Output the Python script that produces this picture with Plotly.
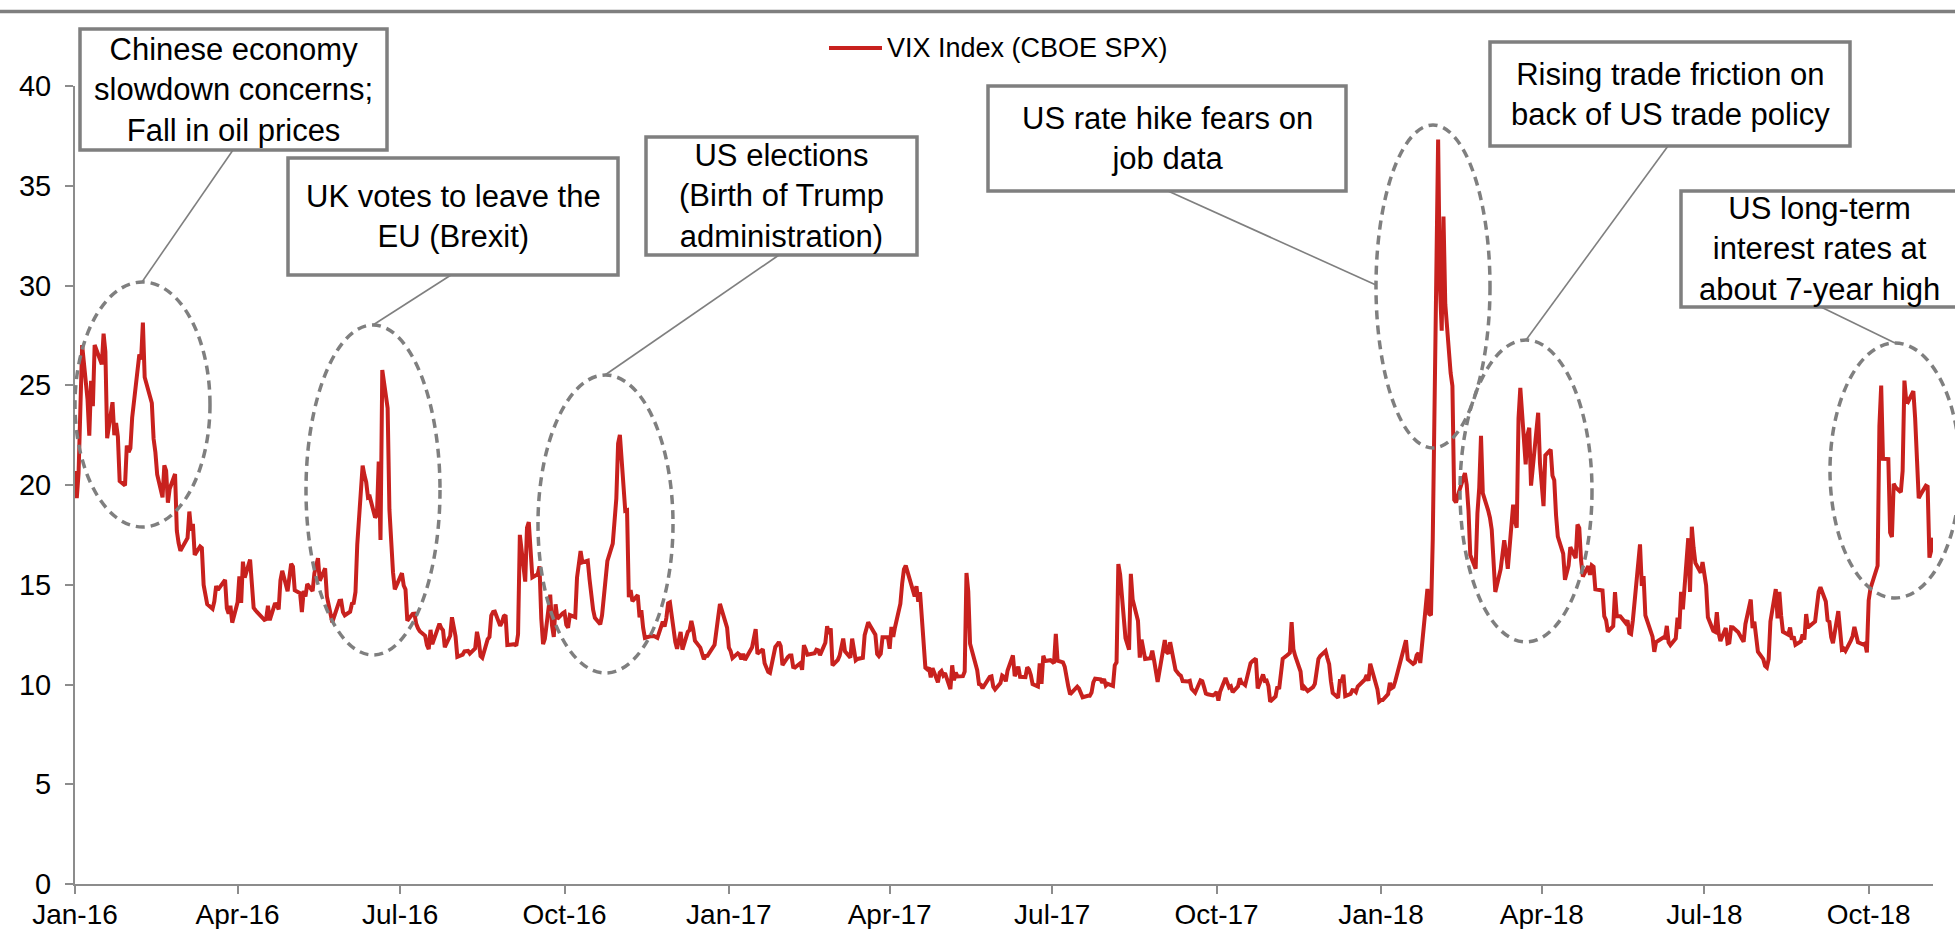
import plotly.graph_objects as go

# ---------------------------------------------------------------------------
# VIX daily closes (CBOE SPX volatility index)
# ---------------------------------------------------------------------------
days_2016 = [
    "01-04", "01-05", "01-06", "01-07", "01-08", "01-11", "01-12", "01-13", "01-14", "01-15",
    "01-19", "01-20", "01-21", "01-22", "01-25", "01-26", "01-27", "01-28", "01-29",
    "02-01", "02-02", "02-03", "02-04", "02-05", "02-08", "02-09", "02-10", "02-11", "02-12",
    "02-16", "02-17", "02-18", "02-19", "02-22", "02-23", "02-24", "02-25", "02-26", "02-29",
    "03-01", "03-02", "03-03", "03-04", "03-07", "03-08", "03-09", "03-10", "03-11", "03-14",
    "03-15", "03-16", "03-17", "03-18", "03-21", "03-22", "03-23", "03-24", "03-28", "03-29",
    "03-30", "03-31", "04-01", "04-04", "04-05", "04-06", "04-07", "04-08", "04-11", "04-12",
    "04-13", "04-14", "04-15", "04-18", "04-19", "04-20", "04-21", "04-22", "04-25", "04-26",
    "04-27", "04-28", "04-29", "05-02", "05-03", "05-04", "05-05", "05-06", "05-09", "05-10",
    "05-11", "05-12", "05-13", "05-16", "05-17", "05-18", "05-19", "05-20", "05-23", "05-24",
    "05-25", "05-26", "05-27", "05-31", "06-01", "06-02", "06-03", "06-06", "06-07", "06-08",
    "06-09", "06-10", "06-13", "06-14", "06-15", "06-16", "06-17", "06-20", "06-21", "06-22",
    "06-23", "06-24", "06-27", "06-28", "06-29", "06-30", "07-01", "07-05", "07-06", "07-07",
    "07-08", "07-11", "07-12", "07-13", "07-14", "07-15", "07-18", "07-19", "07-20", "07-21",
    "07-22", "07-25", "07-26", "07-27", "07-28", "07-29", "08-01", "08-02", "08-03", "08-04",
    "08-05", "08-08", "08-09", "08-10", "08-11", "08-12", "08-15", "08-16", "08-17", "08-18",
    "08-19", "08-22", "08-23", "08-24", "08-25", "08-26", "08-29", "08-30", "08-31", "09-01",
    "09-02", "09-06", "09-07", "09-08", "09-09", "09-12", "09-13", "09-14", "09-15", "09-16",
    "09-19", "09-20", "09-21", "09-22", "09-23", "09-26", "09-27", "09-28", "09-29", "09-30",
    "10-03", "10-04", "10-05", "10-06", "10-07", "10-10", "10-11", "10-12", "10-13", "10-14",
    "10-17", "10-18", "10-19", "10-20", "10-21", "10-24", "10-25", "10-26", "10-27", "10-28",
    "10-31", "11-01", "11-02", "11-03", "11-04", "11-07", "11-08", "11-09", "11-10", "11-11",
    "11-14", "11-15", "11-16", "11-17", "11-18", "11-21", "11-22", "11-23", "11-25", "11-28",
    "11-29", "11-30", "12-01", "12-02", "12-05", "12-06", "12-07", "12-08", "12-09", "12-12",
    "12-13", "12-14", "12-15", "12-16", "12-19", "12-20", "12-21", "12-22", "12-23", "12-27",
    "12-28", "12-29", "12-30",
]
vix_2016 = [
    20.70, 19.34, 20.59, 24.99, 27.01, 24.30, 22.47, 25.22, 23.95, 27.02,
    26.05, 27.59, 26.69, 22.34, 24.15, 22.50, 23.11, 22.42, 20.20,
    19.98, 21.98, 21.65, 21.84, 23.38, 26.00, 26.54, 26.29, 28.14, 25.40,
    24.11, 22.31, 21.64, 20.53, 19.38, 20.98, 20.72, 19.11, 19.81, 20.55,
    17.70, 17.09, 16.70, 16.86, 17.35, 18.67, 17.72, 18.05, 16.50, 16.92,
    16.84, 14.99, 14.44, 14.02, 13.79, 14.17, 14.94, 14.74, 15.24, 13.82,
    13.56, 13.95, 13.10, 14.12, 15.42, 14.09, 16.16, 15.36, 16.26, 14.85,
    13.84, 13.72, 13.62, 13.35, 13.24, 13.28, 13.95, 13.22, 14.08, 13.96,
    13.77, 15.22, 15.70, 14.68, 15.60, 16.05, 15.91, 14.72, 14.57, 13.63,
    14.69, 14.41, 15.04, 14.68, 15.57, 15.95, 16.33, 15.20, 15.82, 14.42,
    13.90, 13.43, 13.12, 14.19, 14.20, 13.63, 13.47, 13.65, 14.05, 14.08,
    14.64, 17.03, 20.97, 20.50, 20.14, 19.37, 19.41, 18.37, 18.48, 21.17,
    17.25, 25.76, 23.85, 18.75, 16.64, 15.63, 14.77, 15.58, 14.96, 14.76,
    13.20, 13.54, 13.55, 13.04, 12.82, 12.67, 12.44, 11.97, 11.77, 12.74,
    12.02, 12.87, 13.05, 12.83, 12.72, 11.87, 12.44, 13.37, 12.86, 12.42,
    11.39, 11.50, 11.66, 11.66, 11.68, 11.55, 11.81, 12.64, 12.19, 11.43,
    11.34, 12.27, 12.38, 13.45, 13.63, 13.65, 12.94, 13.12, 13.42, 13.48,
    11.98, 12.02, 11.94, 12.51, 17.50, 15.16, 17.85, 18.14, 16.30, 15.37,
    15.53, 15.92, 13.30, 12.02, 12.29, 14.50, 12.96, 12.39, 14.02, 13.29,
    13.57, 13.63, 12.99, 12.84, 13.48, 13.38, 15.36, 15.91, 16.69, 16.12,
    16.21, 15.28, 14.41, 13.75, 13.34, 13.02, 13.46, 14.24, 15.36, 16.19,
    17.06, 18.56, 19.32, 22.08, 22.51, 18.71, 18.74, 14.38, 14.74, 14.17,
    14.48, 13.37, 13.72, 12.85, 12.34, 12.42, 12.41, 12.43, 12.34, 13.15,
    12.90, 13.33, 14.07, 14.12, 12.14, 11.79, 12.22, 12.64, 11.75, 12.64,
    12.72, 13.19, 12.79, 12.20, 11.85, 11.45, 11.27, 11.43, 11.44, 11.99,
    12.95, 13.37, 14.04,
]

days_2017 = [
    "01-03", "01-04", "01-05", "01-06", "01-09", "01-10", "01-11", "01-12", "01-13", "01-17",
    "01-18", "01-19", "01-20", "01-23", "01-24", "01-25", "01-26", "01-27", "01-30", "01-31",
    "02-01", "02-02", "02-03", "02-06", "02-07", "02-08", "02-09", "02-10", "02-13", "02-14",
    "02-15", "02-16", "02-17", "02-21", "02-22", "02-23", "02-24", "02-27", "02-28", "03-01",
    "03-02", "03-03", "03-06", "03-07", "03-08", "03-09", "03-10", "03-13", "03-14", "03-15",
    "03-16", "03-17", "03-20", "03-21", "03-22", "03-23", "03-24", "03-27", "03-28", "03-29",
    "03-30", "03-31", "04-03", "04-04", "04-05", "04-06", "04-07", "04-10", "04-11", "04-12",
    "04-13", "04-17", "04-18", "04-19", "04-20", "04-21", "04-24", "04-25", "04-26", "04-27",
    "04-28", "05-01", "05-02", "05-03", "05-04", "05-05", "05-08", "05-09", "05-10", "05-11",
    "05-12", "05-15", "05-16", "05-17", "05-18", "05-19", "05-22", "05-23", "05-24", "05-25",
    "05-26", "05-30", "05-31", "06-01", "06-02", "06-05", "06-06", "06-07", "06-08", "06-09",
    "06-12", "06-13", "06-14", "06-15", "06-16", "06-19", "06-20", "06-21", "06-22", "06-23",
    "06-26", "06-27", "06-28", "06-29", "06-30", "07-03", "07-05", "07-06", "07-07", "07-10",
    "07-11", "07-12", "07-13", "07-14", "07-17", "07-18", "07-19", "07-20", "07-21", "07-24",
    "07-25", "07-26", "07-27", "07-28", "07-31", "08-01", "08-02", "08-03", "08-04", "08-07",
    "08-08", "08-09", "08-10", "08-11", "08-14", "08-15", "08-16", "08-17", "08-18", "08-21",
    "08-22", "08-23", "08-24", "08-25", "08-28", "08-29", "08-30", "08-31", "09-01", "09-05",
    "09-06", "09-07", "09-08", "09-11", "09-12", "09-13", "09-14", "09-15", "09-18", "09-19",
    "09-20", "09-21", "09-22", "09-25", "09-26", "09-27", "09-28", "09-29", "10-02", "10-03",
    "10-04", "10-05", "10-06", "10-09", "10-10", "10-11", "10-12", "10-13", "10-16", "10-17",
    "10-18", "10-19", "10-20", "10-23", "10-24", "10-25", "10-26", "10-27", "10-30", "10-31",
    "11-01", "11-02", "11-03", "11-06", "11-07", "11-08", "11-09", "11-10", "11-13", "11-14",
    "11-15", "11-16", "11-17", "11-20", "11-21", "11-22", "11-24", "11-27", "11-28", "11-29",
    "11-30", "12-01", "12-04", "12-05", "12-06", "12-07", "12-08", "12-11", "12-12", "12-13",
    "12-14", "12-15", "12-18", "12-19", "12-20", "12-21", "12-22", "12-26", "12-27", "12-28",
    "12-29",
]
vix_2017 = [
    12.85, 11.85, 11.67, 11.32, 11.56, 11.49, 11.26, 11.54, 11.23, 11.87,
    12.48, 12.78, 11.54, 11.77, 11.07, 10.81, 10.63, 10.58, 11.88, 11.99,
    12.13, 11.93, 10.97, 11.37, 11.45, 11.45, 10.88, 10.85, 11.07, 10.74,
    11.97, 11.76, 11.49, 11.57, 11.74, 11.71, 11.47, 12.09, 12.92, 12.54,
    12.81, 10.96, 11.24, 11.45, 11.86, 12.30, 11.66, 11.35, 12.30, 11.63,
    11.21, 11.28, 11.34, 12.47, 12.81, 13.12, 12.96, 12.50, 11.53, 11.42,
    11.54, 12.37, 12.38, 11.79, 12.89, 12.39, 12.87, 14.05, 15.07, 15.77,
    15.96, 14.66, 14.42, 14.93, 14.15, 14.63, 10.84, 10.76, 10.85, 10.36,
    10.82, 10.11, 10.59, 10.68, 10.46, 10.57, 9.77, 10.96, 10.21, 10.60,
    10.40, 10.42, 10.65, 15.59, 14.66, 12.04, 10.93, 10.72, 10.02, 9.99,
    9.81, 10.38, 10.41, 9.89, 9.75, 10.07, 10.45, 10.39, 10.16, 10.70,
    11.46, 10.42, 10.64, 10.90, 10.38, 10.37, 10.86, 10.75, 10.48, 10.02,
    9.90, 11.06, 10.03, 11.44, 11.18, 11.22, 11.07, 12.54, 11.19, 11.11,
    10.89, 10.30, 9.90, 9.51, 9.82, 9.89, 9.79, 9.58, 9.36, 9.43,
    9.43, 9.60, 10.11, 10.29, 10.26, 10.09, 10.28, 9.95, 10.03, 9.93,
    10.96, 11.11, 16.04, 15.51, 12.33, 12.04, 11.74, 15.55, 14.26, 13.19,
    11.35, 12.25, 11.78, 11.28, 11.32, 11.70, 11.22, 10.59, 10.13, 12.23,
    11.63, 11.55, 12.12, 10.73, 10.58, 10.50, 10.44, 10.17, 10.15, 10.18,
    9.78, 9.67, 9.59, 10.21, 10.17, 9.87, 9.55, 9.51, 9.45, 9.51,
    9.63, 9.19, 9.65, 10.33, 10.08, 9.85, 9.91, 9.61, 9.91, 10.31,
    10.07, 10.05, 9.97, 11.07, 11.16, 11.23, 11.30, 9.80, 10.50, 10.18,
    10.20, 9.93, 9.14, 9.40, 9.89, 9.78, 10.50, 11.29, 11.50, 11.59,
    13.13, 11.76, 11.43, 10.65, 9.73, 9.88, 9.67, 9.87, 10.03, 10.70,
    11.28, 11.43, 11.68, 11.33, 11.02, 10.16, 9.58, 9.34, 10.18, 10.18,
    10.49, 9.42, 9.53, 9.72, 9.71, 9.62, 9.90, 10.25, 10.47, 10.18,
    11.04,
]

days_2018 = [
    "01-02", "01-03", "01-04", "01-05", "01-08", "01-09", "01-10", "01-11", "01-12", "01-16",
    "01-17", "01-18", "01-19", "01-22", "01-23", "01-24", "01-25", "01-26", "01-29", "01-30",
    "01-31", "02-01", "02-02", "02-05", "02-06", "02-07", "02-08", "02-09", "02-12", "02-13",
    "02-14", "02-15", "02-16", "02-20", "02-21", "02-22", "02-23", "02-26", "02-27", "02-28",
    "03-01", "03-02", "03-05", "03-06", "03-07", "03-08", "03-09", "03-12", "03-13", "03-14",
    "03-15", "03-16", "03-19", "03-20", "03-21", "03-22", "03-23", "03-26", "03-27", "03-28",
    "03-29", "04-02", "04-03", "04-04", "04-05", "04-06", "04-09", "04-10", "04-11", "04-12",
    "04-13", "04-16", "04-17", "04-18", "04-19", "04-20", "04-23", "04-24", "04-25", "04-26",
    "04-27", "04-30", "05-01", "05-02", "05-03", "05-04", "05-07", "05-08", "05-09", "05-10",
    "05-11", "05-14", "05-15", "05-16", "05-17", "05-18", "05-21", "05-22", "05-23", "05-24",
    "05-25", "05-29", "05-30", "05-31", "06-01", "06-04", "06-05", "06-06", "06-07", "06-08",
    "06-11", "06-12", "06-13", "06-14", "06-15", "06-18", "06-19", "06-20", "06-21", "06-22",
    "06-25", "06-26", "06-27", "06-28", "06-29", "07-02", "07-03", "07-05", "07-06", "07-09",
    "07-10", "07-11", "07-12", "07-13", "07-16", "07-17", "07-18", "07-19", "07-20", "07-23",
    "07-24", "07-25", "07-26", "07-27", "07-30", "07-31", "08-01", "08-02", "08-03", "08-06",
    "08-07", "08-08", "08-09", "08-10", "08-13", "08-14", "08-15", "08-16", "08-17", "08-20",
    "08-21", "08-22", "08-23", "08-24", "08-27", "08-28", "08-29", "08-30", "08-31", "09-04",
    "09-05", "09-06", "09-07", "09-10", "09-11", "09-12", "09-13", "09-14", "09-17", "09-18",
    "09-19", "09-20", "09-21", "09-24", "09-25", "09-26", "09-27", "09-28", "10-01", "10-02",
    "10-03", "10-04", "10-05", "10-08", "10-09", "10-10", "10-11", "10-12", "10-15", "10-16",
    "10-17", "10-18", "10-19", "10-22", "10-23", "10-24", "10-25", "10-26", "10-29", "10-30",
    "10-31", "11-01", "11-02", "11-05", "11-06", "11-07", "11-08", "11-09",
]
vix_2018 = [
    9.77, 9.15, 9.22, 9.22, 9.52, 10.08, 9.82, 9.88, 10.16, 11.66,
    11.91, 12.22, 11.27, 11.03, 11.10, 11.47, 11.58, 11.08, 13.84, 14.79,
    13.54, 13.47, 17.31, 37.32, 29.98, 27.73, 33.46, 29.06, 25.61, 24.97,
    19.26, 19.13, 19.46, 20.60, 20.02, 18.72, 16.49, 15.80, 18.59, 19.85,
    22.47, 19.59, 18.73, 18.36, 17.76, 16.54, 14.64, 15.78, 16.35, 17.23,
    16.59, 15.80, 19.02, 18.20, 17.86, 23.34, 24.87, 21.03, 22.50, 22.87,
    19.97, 23.62, 21.10, 20.06, 18.94, 21.49, 21.77, 20.47, 20.24, 18.49,
    17.41, 16.56, 15.25, 15.60, 15.96, 16.88, 16.34, 18.02, 17.84, 16.24,
    15.41, 15.93, 15.49, 15.97, 15.90, 14.77, 14.75, 14.71, 13.42, 13.23,
    12.65, 12.93, 14.63, 13.42, 13.43, 13.42, 13.08, 13.22, 12.58, 12.53,
    13.22, 17.02, 14.94, 15.43, 13.46, 12.74, 12.40, 11.64, 12.13, 12.18,
    12.35, 12.34, 12.94, 12.12, 11.98, 12.31, 13.35, 12.79, 14.64, 13.77,
    17.33, 14.64, 17.91, 16.85, 16.09, 15.60, 16.14, 14.97, 13.37, 12.69,
    12.64, 13.63, 12.58, 12.18, 12.83, 12.06, 12.10, 12.87, 12.86, 12.62,
    12.41, 12.29, 12.14, 13.03, 14.26, 12.83, 13.15, 12.19, 11.64, 11.27,
    10.93, 10.85, 11.27, 13.16, 14.78, 13.31, 14.64, 13.45, 12.64, 12.49,
    12.86, 12.25, 12.41, 11.99, 12.16, 12.50, 12.25, 13.53, 12.86, 13.16,
    13.91, 14.65, 14.88, 14.16, 13.22, 13.14, 12.37, 12.07, 13.68, 12.79,
    11.75, 11.80, 11.68, 12.20, 12.42, 12.89, 12.41, 12.12, 12.00, 12.05,
    11.61, 14.22, 14.82, 15.69, 15.95, 22.96, 24.98, 21.31, 21.30, 17.62,
    17.40, 20.06, 19.89, 19.64, 20.71, 25.23, 24.22, 24.16, 24.70, 23.35,
    21.23, 19.34, 19.51, 19.96, 19.91, 16.36, 16.72, 17.36,
]

tick_dates = [
    "2016-01-04", "2016-04-04", "2016-07-04", "2016-10-04",
    "2017-01-04", "2017-04-04", "2017-07-04", "2017-10-04",
    "2018-01-04", "2018-04-04", "2018-07-04", "2018-10-04",
]

series_name = "VIX Index (CBOE SPX)"

callout_texts = [
    "Chinese economy<br>slowdown concerns;<br>Fall in oil prices",
    "UK votes to leave the<br>EU (Brexit)",
    "US elections<br>(Birth of Trump<br>administration)",
    "US rate hike fears on<br>job data",
    "Rising trade friction on<br>back of US trade policy",
    "US long-term<br>interest rates at<br>about 7-year high",
]

# ---------------------------------------------------------------------------
# Layout geometry (pixels)
# ---------------------------------------------------------------------------
W, H = 1955, 929
PL, PR, PT, PB = 75, 1933, 86, 884  # plot-area edges


def xp(px):
    return (px - PL) / (PR - PL)


def yp(py):
    return (PB - py) / (PB - PT)


# callout box (x0, y0, x1, y1), highlight ellipse (x0, y0, x1, y1),
# leader line from ellipse point to box point
callout_boxes = [
    (80, 29, 387, 150),
    (288, 158, 618, 275),
    (646, 137, 917, 255),
    (988, 86, 1346, 191),
    (1490, 42, 1850, 146),
    (1681, 191, 1957, 307),
]
callout_ellipses = [
    (75, 282, 210, 527),
    (306, 325, 440, 655),
    (538, 375, 673, 673),
    (1376, 125, 1490, 448),
    (1460, 340, 1592, 642),
    (1830, 343, 1960, 598),
]
callout_leaders = [
    ((142, 282), (233, 150)),
    ((373, 325), (451, 275)),
    ((605, 375), (779, 255)),
    ((1376, 285), (1168, 191)),
    ((1526, 340), (1668, 146)),
    ((1895, 343), (1821, 307)),
]

FONT = "Liberation Sans, Arial, Helvetica, sans-serif"
RED = "#C8211E"
GREY = "#7F7F7F"
AXIS_GREY = "#8C8C8C"

dates = ([f"2016-{d}" for d in days_2016]
         + [f"2017-{d}" for d in days_2017]
         + [f"2018-{d}" for d in days_2018])
vix = vix_2016 + vix_2017 + vix_2018

fig = go.Figure()
fig.add_trace(go.Scatter(
    x=dates, y=vix, mode="lines", name=series_name,
    line=dict(color=RED, width=4), showlegend=False,
))

shapes = []
annotations = []

# thin rule across the top of the figure
shapes.append(dict(type="line", xref="paper", yref="paper",
                   x0=xp(0), x1=xp(W), y0=yp(11.5), y1=yp(11.5),
                   line=dict(color=GREY, width=3.5)))

# legend key
shapes.append(dict(type="line", xref="paper", yref="paper",
                   x0=xp(829), x1=xp(882), y0=yp(48), y1=yp(48),
                   line=dict(color=RED, width=4)))
annotations.append(dict(xref="paper", yref="paper", x=xp(885), y=yp(48),
                        xanchor="left", yanchor="middle", showarrow=False,
                        text=series_name,
                        font=dict(family=FONT, size=27, color="black")))

for text, box, ell, lead in zip(callout_texts, callout_boxes,
                                callout_ellipses, callout_leaders):
    (ax, ay), (bx, by) = lead
    shapes.append(dict(type="line", xref="paper", yref="paper",
                       x0=xp(ax), y0=yp(ay), x1=xp(bx), y1=yp(by),
                       line=dict(color=GREY, width=1.6)))
    shapes.append(dict(type="circle", xref="paper", yref="paper",
                       x0=xp(ell[0]), x1=xp(ell[2]),
                       y0=yp(ell[3]), y1=yp(ell[1]),
                       line=dict(color=GREY, width=3.5, dash="9px,6px")))
    shapes.append(dict(type="rect", xref="paper", yref="paper",
                       x0=xp(box[0]), x1=xp(box[2]),
                       y0=yp(box[3]), y1=yp(box[1]),
                       fillcolor="white", line=dict(color=GREY, width=3.5)))
    annotations.append(dict(xref="paper", yref="paper",
                            x=xp((box[0] + box[2]) / 2),
                            y=yp((box[1] + box[3]) / 2),
                            xanchor="center", yanchor="middle",
                            showarrow=False, align="center", text=text,
                            font=dict(family=FONT, size=31, color="black")))

fig.update_layout(
    width=W, height=H,
    margin=dict(l=PL, r=W - PR, t=PT, b=H - PB, autoexpand=False),
    paper_bgcolor="white", plot_bgcolor="white",
    font=dict(family=FONT, color="black"),
    shapes=shapes, annotations=annotations,
    xaxis=dict(
        type="date", range=["2016-01-04", "2018-11-09"],
        tickvals=tick_dates, tickformat="%b-%y",
        ticks="outside", ticklen=8, tickwidth=2, tickcolor=AXIS_GREY,
        showline=True, linecolor=AXIS_GREY, linewidth=2,
        showgrid=False, zeroline=False,
        tickfont=dict(family=FONT, size=28, color="black"),
        ticklabelstandoff=-4,
    ),
    yaxis=dict(
        range=[0, 40], tick0=0, dtick=5,
        ticks="outside", ticklen=8, tickwidth=2, tickcolor=AXIS_GREY,
        showline=True, linecolor=AXIS_GREY, linewidth=2,
        showgrid=False, zeroline=False,
        tickfont=dict(family=FONT, size=29, color="black"),
        ticklabelstandoff=8,
    ),
)

fig.write_html("out.html")
